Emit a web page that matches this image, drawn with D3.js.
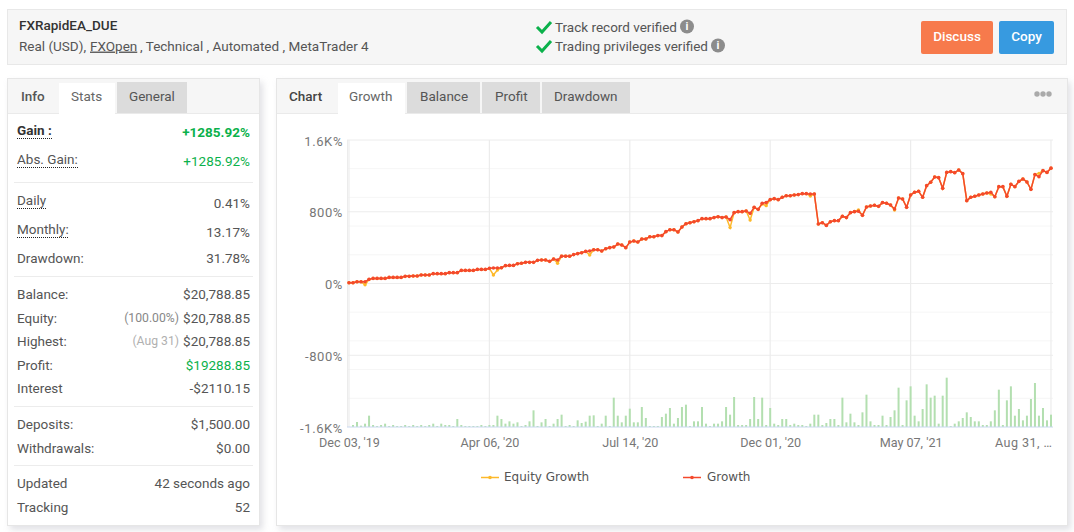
<!DOCTYPE html>
<html>
<head>
<meta charset="utf-8">
<script src="https://cdn.jsdelivr.net/npm/d3@7"></script>
<style>
  html, body { margin: 0; padding: 0; background: #fff; overflow: hidden; }
  svg { display: block; font-family: Roboto, sans-serif; }
  .panel { filter: drop-shadow(3px 4px 3px rgba(150, 150, 165, .28)); }
  .axis text { font-family: Roboto, sans-serif; font-size: 13px; letter-spacing: .6px; fill: #777; }
  .axis.dates text { font-size: 12.6px; letter-spacing: 0; }
  .axis path, .axis line { display: none; }
</style>
</head>
<body>
<svg id="page" width="1074" height="532"></svg>
<script>
// growth in %, one value per trading week
const growth = [
  9,9,20,20,20,46,57,57,57,57,68,68,68,68,80,80,83,83,95,95,
  95,110,110,110,110,121,121,121,146,146,146,146,157,157,157,169,172,172,176,199,
  202,202,221,225,236,236,236,258,262,262,247,273,262,303,303,303,
  322,333,343,358,362,377,377,362,388,400,407,440,430,400,462,474,462,496,496,522,
  522,534,534,578,600,600,574,630,667,678,689,701,723,723,723,735,745,735,741,712,
  790,801,801,809,782,849,827,894,902,935,946,935,961,979,979,987,991,1002,1002,998,998,
  663,678,648,689,701,701,749,735,790,801,805,760,853,864,872,860,902,894,875,831,
  953,942,849,987,1017,1028,961,1091,1129,1188,1180,1061,1239,1247,1236,1266,1225,924,961,972,
  987,998,1009,1017,968,1080,1080,972,1106,1080,1139,1165,1132,1050,1214,1191,1258,1239,1286
];
// equity follows growth except on these weeks
const equityDipWeeks = [4, 36, 37, 52, 60, 95, 100, 103, 104, 115, 127, 136, 160, 172];
const equityDipValues = [-15, 95, 150, 225, 318, 623, 708, 887, 868, 976, 820, 820, 998, 1228];
// bar heights, relative units
const volume = [
  0,6,15,4,10,34,6,3,6,10,3,6,3,3,6,3,6,3,6,3,
  6,10,3,10,6,6,3,24,6,3,3,3,3,6,3,6,6,34,24,10,
  17,10,14,3,6,17,50,3,14,24,3,10,24,37,3,6,3,20,
  12,16,34,35,3,10,34,3,88,34,14,34,55,14,14,60,27,3,3,3,
  30,40,57,10,27,60,67,3,17,17,60,10,3,10,10,17,60,37,90,6,
  6,6,24,90,24,88,6,57,10,6,24,24,6,10,6,6,3,10,37,37,
  6,12,24,24,6,88,14,40,14,6,44,97,17,6,6,34,6,30,50,118,
  6,80,122,34,17,54,128,88,94,10,94,148,3,10,17,27,44,30,17,17,
  6,6,17,50,112,6,80,122,34,54,20,34,84,132,34,57,20,37
];
const dateTickWeeks = [0, 35, 70, 105, 140, 175];
const dateTickLabels = ["Dec 03, '19", "Apr 06, '20", "Jul 14, '20", "Dec 01, '20", "May 07, '21", "Aug 31, …"];
const yTicks = [-1600, -800, 0, 800, 1600];
const yTickLabels = ["-1.6K%", "-800%", "0%", "800%", "1.6K%"];
const yMinorTicks = [-1280, -960, -640, -320, 320, 640, 960, 1280];

const statRows = [
  ["Gain :", "+1285.92%"], ["Abs. Gain:", "+1285.92%"],
  ["Daily", "0.41%"], ["Monthly:", "13.17%"], ["Drawdown:", "31.78%"],
  ["Balance:", "$20,788.85"], ["Equity:", "$20,788.85"], ["Highest:", "$20,788.85"],
  ["Profit:", "$19288.85"], ["Interest", "-$2110.15"],
  ["Deposits:", "$1,500.00"], ["Withdrawals:", "$0.00"],
  ["Updated", "42 seconds ago"], ["Tracking", "52"]
];
const statLabelY = [130, 159, 200, 229, 258, 294, 318, 341, 365, 388, 424, 448, 483, 507];
const statValueY = [132, 161, 203, 232, 258, 294, 318, 341, 365, 388, 424, 448, 483, 507];

const svg = d3.select('#page');

function panel(x, y, w, h, fill) {
  svg.append('rect').attr('class', 'panel')
    .attr('x', x + .5).attr('y', y + .5).attr('width', w).attr('height', h)
    .attr('fill', fill).attr('stroke', '#e6e6e6');
}
function label(x, y, str, opts = {}) {
  return svg.append('text').attr('x', x).attr('y', y + 1).text(str)
    .attr('font-size', opts.size || 13.5)
    .attr('font-weight', opts.weight || 400)
    .attr('fill', opts.fill || '#555')
    .attr('text-anchor', opts.anchor || 'start')
    .attr('dominant-baseline', 'middle');
}
function box(x, y, w, h, fill, r) {
  svg.append('rect').attr('x', x).attr('y', y).attr('width', w).attr('height', h)
    .attr('fill', fill).attr('rx', r || 0);
}

// header
svg.append('rect').attr('x', 7.5).attr('y', 9.5).attr('width', 1059).attr('height', 55)
  .attr('fill', '#f6f6f6').attr('stroke', '#e8e8e8');
label(19, 25, 'FXRapidEA_DUE', { size: 13.5, weight: 500, fill: '#333' });
label(19, 46, 'Real (USD), ');
label(90, 46, 'FXOpen').attr('text-decoration', 'underline');
label(140, 46, ', Technical , Automated , MetaTrader 4');

[[27, 'Track record verified', 687], [46, 'Trading privileges verified', 718]].forEach(([y, txt, infoX]) => {
  svg.append('path').attr('d', `M537 ${y} l5 5 l9 -10`).attr('fill', 'none')
    .attr('stroke', '#0bb14b').attr('stroke-width', 3);
  label(555, y, txt);
  svg.append('circle').attr('cx', infoX).attr('cy', y - 0.5).attr('r', 7).attr('fill', '#8c8c8c');
  label(infoX, y - 1, 'i', { size: 11, weight: 700, fill: '#fff', anchor: 'middle' });
});

box(921, 21, 72, 33, '#f77a4c', 2);
box(999, 21, 55, 33, '#379ae0', 2);
label(957, 36, 'Discuss', { weight: 500, fill: '#fff', anchor: 'middle' });
label(1026.5, 36, 'Copy', { weight: 500, fill: '#fff', anchor: 'middle' });

// left panel
panel(7, 78, 252, 447, '#fff');
box(8, 79, 251, 34, '#f6f6f6');
svg.append('line').attr('x1', 8).attr('x2', 259).attr('y1', 113.5).attr('y2', 113.5).attr('stroke', '#eaeaea');
box(59, 83, 56, 31, '#fff');
box(117, 82, 70, 31, '#dcdcdc');
label(21, 96, 'Info', { weight: 500 });
label(71, 96, 'Stats', { fill: '#666' });
label(129, 96, 'General');

statRows.forEach(([name, value], i) => {
  const isGain = i === 0;
  const green = i < 2 || name === 'Profit:';
  label(17, statLabelY[i], name, { weight: isGain ? 700 : 400, fill: isGain ? '#333' : '#555' });
  label(250, statValueY[i], value, {
    weight: isGain ? 700 : 400,
    fill: green ? '#0bb14b' : '#555',
    anchor: 'end'
  });
});
[[17, 52, 138], [17, 78, 167], [17, 46, 208], [17, 69, 237]].forEach(([x1, x2, y]) => {
  svg.append('line').attr('x1', x1).attr('x2', x2).attr('y1', y + .5).attr('y2', y + .5)
    .attr('stroke', '#222').attr('stroke-dasharray', '1 1');
});
[182, 276, 406, 465].forEach(y => {
  svg.append('line').attr('x1', 14).attr('x2', 253).attr('y1', y + .5).attr('y2', y + .5).attr('stroke', '#ececec');
});
label(179, 318, '(100.00%)', { fill: '#888', size: 12.2, anchor: 'end' });
label(179, 341, '(Aug 31)', { fill: '#b0b0b0', size: 12.2, anchor: 'end' });

// chart panel
panel(276, 78, 791, 447, '#fff');
box(277, 79, 790, 34, '#f6f6f6');
svg.append('line').attr('x1', 277).attr('x2', 1067).attr('y1', 113.5).attr('y2', 113.5).attr('stroke', '#eaeaea');
box(338, 83, 67, 31, '#fff');
box(407, 82, 73, 31, '#dcdcdc');
box(482, 82, 58, 31, '#dcdcdc');
box(542, 82, 88, 31, '#dcdcdc');
label(289, 96, 'Chart', { weight: 500, fill: '#444' });
label(349, 96, 'Growth', { fill: '#666' });
label(420, 96, 'Balance');
label(495, 96, 'Profit');
label(554, 96, 'Drawdown');
[1037, 1043, 1049].forEach(cx => {
  svg.append('circle').attr('cx', cx).attr('cy', 94).attr('r', 2.7).attr('fill', '#aaa');
});

// scales
const weeks = growth.map((d, i) => i);
const x = d3.scalePoint().domain(weeks).range([349, 1051]);
const y = d3.scaleLinear().domain([-1600, 1600]).range([427, 140]);
const barY = d3.scaleLinear().domain([0, 150]).range([427, 377]);

// grid
const grid = svg.append('g');
grid.selectAll('.minor').data(yMinorTicks).enter().append('line')
  .attr('x1', 347).attr('x2', 1053)
  .attr('y1', d => y(d)).attr('y2', d => y(d))
  .attr('stroke', '#f6f6f6');
grid.selectAll('.major').data(yTicks.slice(1)).enter().append('line')
  .attr('x1', 347).attr('x2', 1053)
  .attr('y1', d => y(d)).attr('y2', d => y(d))
  .attr('stroke', '#ececec');
grid.selectAll('.vert').data(dateTickWeeks).enter().append('line')
  .attr('x1', d => x(d)).attr('x2', d => x(d))
  .attr('y1', 140).attr('y2', 427)
  .attr('stroke', '#ececec').attr('stroke-width', 1.2);
grid.append('line').attr('x1', 347.5).attr('x2', 347.5).attr('y1', 140).attr('y2', 427)
  .attr('stroke', '#ececec');

// axes
const yLookup = new Map(yTicks.map((t, i) => [t, yTickLabels[i]]));
svg.append('g').attr('class', 'axis').attr('transform', 'translate(350,1)')
  .call(d3.axisLeft(y).tickValues(yTicks).tickFormat(d => yLookup.get(d)).tickSize(0).tickPadding(7));
const xLookup = new Map(dateTickWeeks.map((t, i) => [t, dateTickLabels[i]]));
const xAxis = svg.append('g').attr('class', 'axis dates').attr('transform', 'translate(0,427)')
  .call(d3.axisBottom(x).tickValues(dateTickWeeks).tickFormat(d => xLookup.get(d)).tickSize(0).tickPadding(11));
xAxis.selectAll('text').filter(d => d === 175)
  .attr('text-anchor', 'end').attr('dx', 1).style('letter-spacing', '.45px');

// bars
svg.append('g').selectAll('rect').data(volume).enter().append('rect')
  .attr('x', (d, i) => x(i) - 1)
  .attr('y', d => barY(d))
  .attr('width', 2)
  .attr('height', d => barY(0) - barY(d))
  .attr('fill', '#b3dfb0');
svg.append('line').attr('x1', 347).attr('x2', 1053).attr('y1', 427).attr('y2', 427)
  .attr('stroke', '#c9d8f0');

// lines
const equity = growth.slice();
equityDipWeeks.forEach((w, i) => { equity[w] = equityDipValues[i]; });
const lineGen = d3.line().x((d, i) => x(i)).y(d => y(d));

function drawSeries(values, color, r) {
  svg.append('path').datum(values).attr('d', lineGen)
    .attr('fill', 'none').attr('stroke', color).attr('stroke-width', 1.5);
  svg.append('g').selectAll('circle').data(values).enter().append('circle')
    .attr('cx', (d, i) => x(i)).attr('cy', d => y(d)).attr('r', r).attr('fill', color);
}
drawSeries(equity, '#fdb92a', 1.7);
drawSeries(growth, '#f4492c', 1.8);

// legend
[[481, 'Equity Growth', '#fdb92a', 504], [683, 'Growth', '#f4492c', 707]].forEach(([lx, txt, color, tx]) => {
  svg.append('line').attr('x1', lx).attr('x2', lx + 18).attr('y1', 477.5).attr('y2', 477.5)
    .attr('stroke', color).attr('stroke-width', 1.5);
  svg.append('circle').attr('cx', lx + 9).attr('cy', 477.5).attr('r', 1.8).attr('fill', color);
  label(tx, 476, txt, { size: 12, fill: '#555' }).attr('font-family', 'DejaVu Sans');
});
</script>
</body>
</html>
